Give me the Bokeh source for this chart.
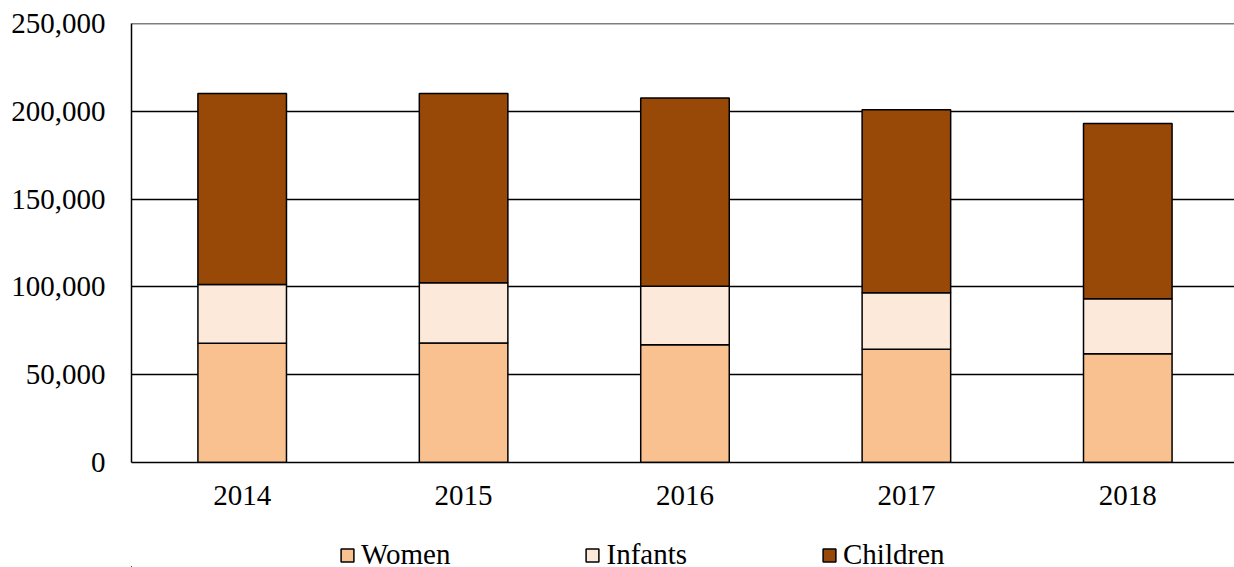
from bokeh.plotting import figure
from bokeh.layouts import column
from bokeh.models import Range1d, FixedTicker, NumeralTickFormatter, Legend, LegendItem, Span
from bokeh.embed import file_html
from bokeh.resources import INLINE

years = ["2014", "2015", "2016", "2017", "2018"]
women = [67900, 68000, 67000, 64500, 61900]
infants = [33400, 34400, 33300, 32100, 31400]
children = [108900, 107800, 107300, 104300, 99800]
series = ["Women", "Infants", "Children"]
colors = ["#F9C090", "#FDE9D9", "#984807"]
y_ticks = [0, 50000, 100000, 150000, 200000, 250000]

xs = list(range(len(years)))
data = dict(x=xs, Women=women, Infants=infants, Children=children)

font = "Liberation Serif"
fs = "29px"

p = figure(width=1234, height=517, output_backend="svg", toolbar_location=None,
           x_range=Range1d(-0.5, len(years) - 0.518), y_range=Range1d(0, 250000),
           min_border_left=131, min_border_right=0, min_border_top=23, min_border_bottom=55)

renderers = p.vbar_stack(series, x="x", width=0.4, source=data, color=colors,
                         line_color="black", line_width=1.5)

p.outline_line_color = None
p.background_fill_color = "white"

p.xaxis.ticker = FixedTicker(ticks=xs)
p.xaxis.major_label_overrides = {i: y for i, y in enumerate(years)}
p.xaxis.major_tick_out = 0
p.xaxis.major_tick_in = 0
p.xaxis.major_tick_line_color = None
p.xaxis.minor_tick_line_color = None
p.xaxis.axis_line_color = "black"
p.xaxis.axis_line_width = 1.5
p.xaxis.major_label_text_font = font
p.xaxis.major_label_text_font_size = fs
p.xaxis.major_label_text_color = "black"
p.xaxis.major_label_standoff = 23

p.yaxis.ticker = FixedTicker(ticks=y_ticks)
p.yaxis.formatter = NumeralTickFormatter(format="0,0")
p.yaxis.major_tick_out = 0
p.yaxis.major_tick_in = 0
p.yaxis.major_tick_line_color = None
p.yaxis.minor_tick_line_color = None
p.yaxis.axis_line_color = "black"
p.yaxis.axis_line_width = 1.5
p.yaxis.major_label_text_font = font
p.yaxis.major_label_text_font_size = fs
p.yaxis.major_label_text_color = "black"
p.yaxis.major_label_standoff = 26

p.xgrid.grid_line_color = None
p.ygrid.ticker = FixedTicker(ticks=y_ticks)
p.ygrid.grid_line_color = "black"
p.ygrid.grid_line_width = 1.3
p.ygrid.grid_line_alpha = 1.0

p.add_layout(Span(location=y_ticks[-1], dimension="width", line_color="black", line_width=1.5))

# Legend strip below the chart (same stacked series, kept far outside this strip's view range)
lg = figure(width=1234, height=50, output_backend="svg", toolbar_location=None,
            x_range=Range1d(1000, 1001), y_range=Range1d(1e9, 1e9 + 1),
            x_axis_type=None, y_axis_type=None,
            min_border_left=0, min_border_right=0, min_border_top=0, min_border_bottom=0)
lg.outline_line_color = None
lg.xgrid.visible = False
lg.ygrid.visible = False
proxies = lg.vbar_stack(series, x="x", width=0.4, source=data, color=colors,
                        line_color="black", line_width=1.5)
items = [LegendItem(label=s, renderers=[r], index=0) for s, r in zip(series, proxies)]
legend = Legend(items=items, orientation="horizontal", location=(208, -4),
                label_text_font=font, label_text_font_size=fs,
                label_text_color="black",
                glyph_width=16, glyph_height=16, label_standoff=6, spacing=134,
                padding=0, margin=0, border_line_color=None,
                background_fill_alpha=0)
lg.add_layout(legend, "center")

layout = column(p, lg, spacing=0)
open("out.html", "w").write(file_html(layout, INLINE))
